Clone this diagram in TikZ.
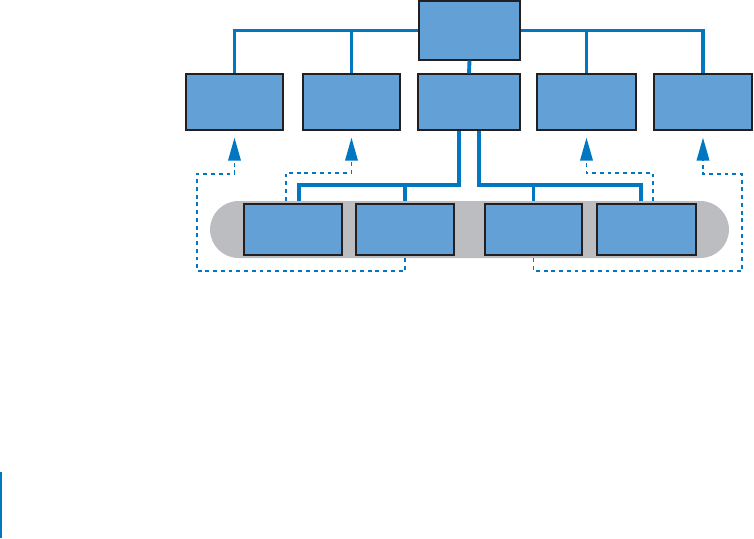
\documentclass[tikz,border=0pt]{standalone}
\usepackage{tikz}
\usetikzlibrary{arrows.meta,calc}
\definecolor{BoxBlue}{HTML}{62A0D5}
\definecolor{LinkBlue}{HTML}{0077C0}
\definecolor{Edge}{HTML}{231F20}
\definecolor{PillGrey}{HTML}{BCBDC0}

\begin{document}
\begin{tikzpicture}[x=0.02cm,y=-0.02cm]
    \tikzset{unit/.style={fill=BoxBlue,draw=Edge,line width=0.7pt,inner sep=0pt},
      link/.style={LinkBlue,line width=2.2pt},
      backlink/.style={LinkBlue,line width=1.1pt,dash pattern=on 2.2pt off 2.2pt,
        -{Triangle[length=0.46cm,width=0.25cm]},shorten >=0.14cm}}
    \useasboundingbox (0,0) rectangle (754,538);

    % top and first row
    \node[unit,minimum width=2.02cm,minimum height=1.18cm] (top) at (469.5,30.5) {};
    \foreach \x/\w/\id in {234.5/1.94/r1,351.5/1.94/r2,469/2.04/r3,586.5/1.98/r4,703/1.96/r5}{
      \node[unit,minimum width=\w cm,minimum height=1.12cm] (\id) at (\x,102) {};
    }

    % grey band with the lower row
    \node[fill=PillGrey,rounded corners=0.57cm,minimum width=10.38cm,minimum height=1.14cm,
      inner sep=0pt] (pill) at (469.5,229.5) {};
    \foreach \x/\w/\id in {293/1.96/b1,405/1.96/b2,533.5/1.94/b3,646.5/1.98/b4}{
      \node[unit,minimum width=\w cm,minimum height=1.02cm] (\id) at (\x,229.5) {};
    }

    % tree links
    \draw[link] (top.south) -- (r3.north);
    \draw[link] (r1.north) |- (top.west);
    \draw[link] (r2.north) -- (r2.north |- top.west);
    \draw[link] (r5.north) |- (top.east);
    \draw[link] (r4.north) -- (r4.north |- top.east);
    \draw[link] ([xshift=-0.2cm]r3.south) |- (299,185) -- (299,185 |- pill.north);
    \draw[link] (b2.north |- 299,185) -- (b2.north |- pill.north);
    \draw[link] ([xshift=0.2cm]r3.south) |- (641,185) -- (641,185 |- pill.north);
    \draw[link] (b3.north |- 641,185) -- (b3.north |- pill.north);

    % dashed back links
    \coordinate (dl) at (197,174);
    \coordinate (dr) at (742,174);
    \draw[backlink] (b2.south |- pill.south) -- ++(0,13) -| (dl) -| (r1.south);
    \draw[backlink] ([xshift=-0.14cm]b1.north |- pill.north) -- ++(0,-28) -| (r2.south);
    \draw[backlink] ([xshift=0.13cm]b4.north |- pill.north) -- ++(0,-28) -| (r4.south);
    \draw[backlink] (b3.south |- pill.south) -- ++(0,13) -| (dr) -| (r5.south);

    % edge mark
    \fill[LinkBlue] (0,472) rectangle (2,538);
  \end{tikzpicture}
\end{document}
